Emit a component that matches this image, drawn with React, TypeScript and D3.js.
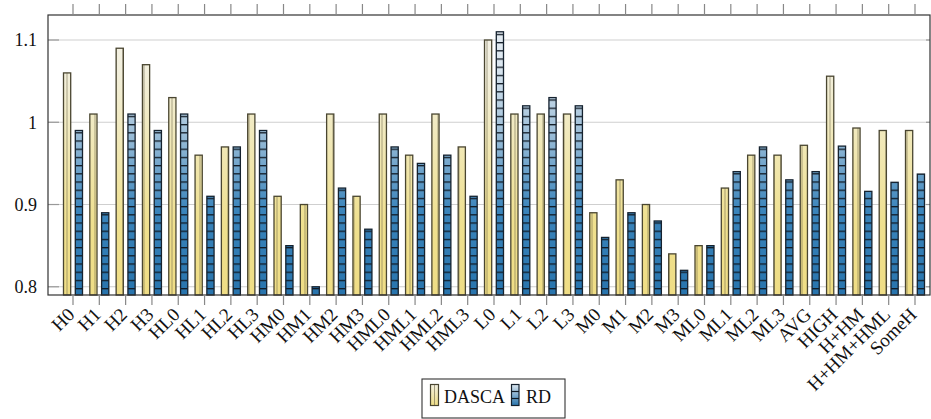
import React from "react";
import * as d3 from "d3";

const categories = ["H0","H1","H2","H3","HL0","HL1","HL2","HL3","HM0","HM1","HM2","HM3","HML0","HML1","HML2","HML3","L0","L1","L2","L3","M0","M1","M2","M3","ML0","ML1","ML2","ML3","AVG","HIGH","H+HM","H+HM+HML","SomeH"];
const dasca = [1.06,1.01,1.09,1.07,1.03,0.96,0.97,1.01,0.91,0.90,1.01,0.91,1.01,0.96,1.01,0.97,1.10,1.01,1.01,1.01,0.89,0.93,0.90,0.84,0.85,0.92,0.96,0.96,0.972,1.056,0.993,0.99,0.99];
const rd = [0.99,0.89,1.01,0.99,1.01,0.91,0.97,0.99,0.85,0.80,0.92,0.87,0.97,0.95,0.96,0.91,1.11,1.02,1.03,1.02,0.86,0.89,0.88,0.82,0.85,0.94,0.97,0.93,0.94,0.971,0.916,0.927,0.937];
const yTicks = [0.8, 0.9, 1.0, 1.1];
const yTickLabels = ["0.8", "0.9", "1", "1.1"];
const seriesNames = ["DASCA", "RD"];

const W = 931, H = 419;
const plot = { left: 48, right: 930, top: 15, bottom: 295 };
const textStyle: React.CSSProperties = { fontFamily: "Liberation Serif, Times New Roman, Times, serif", fontSize: "18px" };
const xLabelStyle: React.CSSProperties = { fontFamily: "Liberation Serif, Times New Roman, Times, serif", fontSize: "19px" };

export default function App() {
  const x = d3.scalePoint<string>().domain(categories).range([73, 915]);
  const y = d3.scaleLinear().domain([0.79, 1.1304]).range([plot.bottom, plot.top]);
  const bw = 7.2;
  const off = 5.9;

  return (
    <svg width={W} height={H} style={{ position: "absolute", left: 0, top: 0, background: "#fff" }}>
      <defs>
        <linearGradient id="gD" gradientUnits="userSpaceOnUse" x1="0" y1={plot.top} x2="0" y2={plot.bottom}>
          <stop offset="0" stopColor="#f4f2ea" />
          <stop offset="0.2" stopColor="#f2efdc" />
          <stop offset="0.75" stopColor="#efe08e" />
          <stop offset="1" stopColor="#efdd85" />
        </linearGradient>
        <linearGradient id="gR" gradientUnits="userSpaceOnUse" x1="0" y1={plot.top} x2="0" y2={plot.bottom}>
          <stop offset="0" stopColor="#e8eef3" />
          <stop offset="0.18" stopColor="#dbe6ef" />
          <stop offset="0.4" stopColor="#a3c2da" />
          <stop offset="0.7" stopColor="#3a84bb" />
          <stop offset="1" stopColor="#2874ad" />
        </linearGradient>
        <pattern id="pR" patternUnits="userSpaceOnUse" width="8" height="8.2" x="0" y="1">
          <rect x="0" y="0" width="8" height="1.3" fill="#111a24" />
        </pattern>
        <pattern id="pD" patternUnits="userSpaceOnUse" width="7" height="8" x="0.5" y="0">
          <rect x="3" y="0" width="1" height="8" fill="#6b6448" opacity="0.55" />
        </pattern>
        <linearGradient id="lgD" x1="0" y1="0" x2="0" y2="1">
          <stop offset="0" stopColor="#f3f0e0" />
          <stop offset="1" stopColor="#eedd86" />
        </linearGradient>
        <linearGradient id="lgR" x1="0" y1="0" x2="0" y2="1">
          <stop offset="0" stopColor="#dbe6ef" />
          <stop offset="1" stopColor="#2874ad" />
        </linearGradient>
      </defs>

      {yTicks.map((t) => (
        <line key={"g" + t} x1={plot.left} x2={plot.right} y1={y(t)} y2={y(t)} stroke="#cfcfcf" strokeWidth={1.2} />
      ))}
      {yTicks.map((t) => (
        <g key={"yt" + t}>
          <line x1={plot.left} x2={plot.left + 11} y1={y(t)} y2={y(t)} stroke="#999" strokeWidth={1.2} />
          <line x1={plot.right - 4} x2={plot.right} y1={y(t)} y2={y(t)} stroke="#999" strokeWidth={1.2} />
        </g>
      ))}

      {categories.map((c, i) => {
        const cx = x(c)!;
        const yd = y(dasca[i]);
        const yr = y(rd[i]);
        return (
          <g key={c}>
            <rect x={cx - off - bw / 2} y={yd} width={bw} height={plot.bottom - yd} fill="url(#gD)" />
            <rect x={cx - off - bw / 2} y={yd} width={bw} height={plot.bottom - yd} fill="url(#pD)" />
            <rect x={cx - off - bw / 2} y={yd} width={bw} height={plot.bottom - yd} fill="none" stroke="#4a4631" strokeWidth={1.3} />
            <rect x={cx + off - bw / 2} y={yr} width={bw} height={plot.bottom - yr} fill="url(#gR)" />
            <rect x={cx + off - bw / 2} y={yr} width={bw} height={plot.bottom - yr} fill="url(#pR)" />
            <rect x={cx + off - bw / 2} y={yr} width={bw} height={plot.bottom - yr} fill="none" stroke="#15222f" strokeWidth={1.3} />
          </g>
        );
      })}

      <rect x={plot.left} y={plot.top} width={plot.right - plot.left} height={plot.bottom - plot.top} fill="none" stroke="#333" strokeWidth={1.2} />

      {categories.map((c) => (
        <g key={"xt" + c}>
          <line x1={x(c)!} x2={x(c)!} y1={plot.top} y2={plot.top - 11} stroke="#888" strokeWidth={1.2} />
          <line x1={x(c)!} x2={x(c)!} y1={plot.bottom} y2={plot.bottom + 10} stroke="#888" strokeWidth={1.2} />
        </g>
      ))}

      {yTicks.map((t, i) => (
        <text key={"yl" + t} x={plot.left - 11} y={y(t)} dy="0.35em" textAnchor="end" style={textStyle} fill="#111">
          {yTickLabels[i]}
        </text>
      ))}

      {categories.map((c) => (
        <text
          key={"xl" + c}
          transform={`translate(${x(c)! - 2},${plot.bottom + 16}) rotate(-45)`}
          dy="0.35em"
          textAnchor="end"
          style={xLabelStyle}
          fill="#111"
        >
          {c}
        </text>
      ))}

      <g>
        <rect x={422} y={379} width={143} height={39} fill="#fff" stroke="#333" strokeWidth={1.1} />
        <rect x={430.5} y={384.5} width={8} height={21} fill="url(#lgD)" stroke="#4a4631" strokeWidth={1.2} />
        <line x1={434.5} x2={434.5} y1={385} y2={405} stroke="#6b6448" strokeWidth={1} opacity={0.6} />
        <text x={444} y={403} style={textStyle} fill="#111">{seriesNames[0]}</text>
        <rect x={511.5} y={384.5} width={7.5} height={21} fill="url(#lgR)" stroke="#15222f" strokeWidth={1.2} />
        {[391.5, 398.5].map((yy) => (
          <line key={yy} x1={511.5} x2={519} y1={yy} y2={yy} stroke="#111a24" strokeWidth={1.2} />
        ))}
        <text x={526} y={403} style={textStyle} fill="#111">{seriesNames[1]}</text>
      </g>
    </svg>
  );
}
